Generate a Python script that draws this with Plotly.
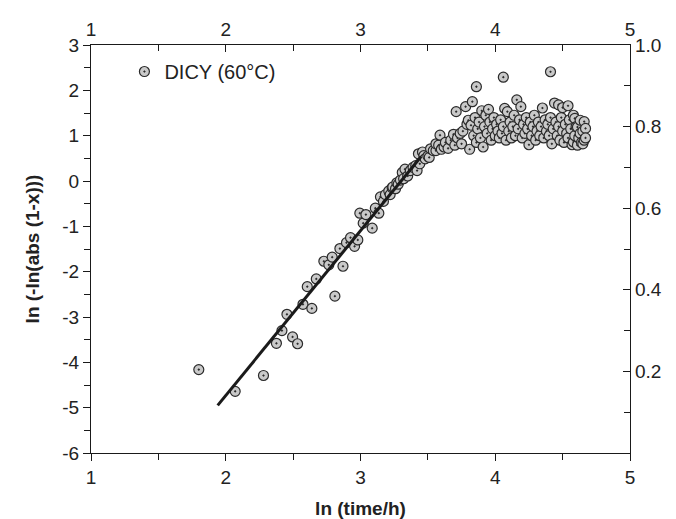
import plotly.graph_objects as go

# ln(time/h) and ln(-ln(abs(1-x)))
ln_t = [1.80, 2.07, 2.28, 2.376, 2.417, 2.454, 2.496, 2.533, 2.573, 2.605, 2.639, 2.672,
        2.728, 2.765, 2.79, 2.81, 2.847, 2.87, 2.896, 2.926, 2.956, 2.98, 2.995, 3.02,
        3.04, 3.087, 3.11, 3.136, 3.148, 3.17, 3.185, 3.21, 3.22, 3.235, 3.24, 3.26,
        3.27, 3.28, 3.296, 3.31, 3.32, 3.33, 3.35, 3.37, 3.39, 3.41, 3.42, 3.43, 3.44,
        3.46, 3.47, 3.48, 3.50, 3.51, 3.52, 3.54, 3.56, 3.56, 3.58, 3.59, 3.60, 3.62,
        3.63, 3.65, 3.67, 3.69, 3.70, 3.71, 3.72, 3.74, 3.75, 3.76, 3.78, 3.79, 3.80,
        3.81, 3.82, 3.83, 3.84, 3.85, 3.86, 3.86, 3.87, 3.88, 3.89, 3.90, 3.91, 3.92,
        3.93, 3.94, 3.95, 3.96, 3.97, 3.98, 3.99, 4.00, 4.01, 4.02, 4.03, 4.04, 4.05,
        4.06, 4.06, 4.07, 4.08, 4.09, 4.10, 4.11, 4.12, 4.13, 4.14, 4.15, 4.16, 4.17,
        4.18, 4.19, 4.20, 4.21, 4.22, 4.23, 4.24, 4.25, 4.26, 4.27, 4.28, 4.29, 4.30,
        4.31, 4.32, 4.33, 4.34, 4.35, 4.36, 4.37, 4.38, 4.39, 4.40, 4.41, 4.41, 4.42,
        4.43, 4.44, 4.45, 4.46, 4.47, 4.47, 4.48, 4.49, 4.50, 4.50, 4.51, 4.52, 4.53,
        4.54, 4.54, 4.55, 4.56, 4.57, 4.58, 4.58, 4.59, 4.59, 4.60, 4.61, 4.61, 4.62,
        4.63, 4.63, 4.64, 4.65, 4.65, 4.66, 4.66, 4.67, 4.67]
ln_k = [-4.16, -4.64, -4.29, -3.58, -3.30, -2.94, -3.44, -3.59, -2.72, -2.33, -2.81, -2.16,
        -1.77, -1.85, -1.68, -2.54, -1.49, -1.88, -1.36, -1.25, -1.44, -1.30, -0.71, -0.93,
        -0.74, -1.04, -0.60, -0.71, -0.35, -0.45, -0.30, -0.22, -0.30, -0.15, -0.13, -0.17,
        -0.04, -0.07, 0.02, 0.19, 0.05, 0.26, 0.11, 0.23, 0.30, 0.34, 0.23, 0.60, 0.38,
        0.64, 0.56, 0.49, 0.55, 0.52, 0.71, 0.67, 0.67, 0.82, 0.79, 1.01, 0.70, 0.75,
        0.85, 0.72, 0.90, 1.03, 0.79, 1.53, 0.95, 1.05, 0.82, 1.10, 1.64, 1.25, 1.34,
        0.70, 1.23, 1.75, 1.00, 1.40, 2.08, 0.85, 1.15, 1.30, 0.95, 1.55, 0.75, 1.20,
        1.45, 1.05, 1.58, 1.30, 0.90, 1.15, 1.40, 1.00, 1.25, 1.10, 0.95, 1.35, 1.05,
        2.29, 1.20, 1.60, 0.90, 1.53, 1.10, 1.30, 0.95, 1.20, 1.45, 1.00, 1.79, 1.15,
        1.35, 1.64, 0.95, 1.25, 1.05, 1.40, 1.15, 0.80, 1.30, 1.00, 1.20, 1.45, 0.90,
        1.10, 1.30, 1.00, 1.20, 1.61, 0.95, 1.35, 1.10, 1.25, 1.00, 2.41, 1.40, 0.82,
        1.15, 1.72, 1.30, 1.00, 1.68, 1.20, 0.90, 1.40, 1.62, 1.10, 0.85, 1.25, 1.05,
        1.66, 0.95, 1.35, 1.15, 0.80, 1.45, 0.86, 1.38, 1.00, 1.20, 0.79, 1.19, 0.95,
        1.34, 1.05, 0.85, 0.82, 1.10, 1.31, 0.90, 1.16, 0.95]

# linear fit line endpoints
fit_x = [1.94, 3.45]
fit_y = [-4.95, 0.54]

x_ticks = [1, 2, 3, 4, 5]
y_ticks = [-6, -5, -4, -3, -2, -1, 0, 1, 2, 3]
y_tick_text = ["-6", "-5", "-4", "-3", "-2", "-1", "0", "1", "2", "3"]
y2_ticks = [0.2, 0.4, 0.6, 0.8, 1.0]
y2_tick_text = ["0.2", "0.4", "0.6", "0.8", "1.0"]

FONT = "Liberation Sans, Arial, sans-serif"

fig = go.Figure()
fig.add_trace(go.Scatter(
    x=ln_t, y=ln_k, mode="markers", name="DICY (60°C)",
    marker=dict(symbol="circle-dot", size=10, color="#c9c9c9",
                line=dict(color="#2a2a2a", width=1.2)),
))
fig.add_trace(go.Scatter(
    x=fit_x, y=fit_y, mode="lines", showlegend=False,
    line=dict(color="#1a1a1a", width=3),
))
# invisible trace to activate secondary axes
fig.add_trace(go.Scatter(x=[None], y=[None], xaxis="x2", yaxis="y2",
                         showlegend=False, hoverinfo="skip"))

axis_common = dict(showline=True, linecolor="#1a1a1a", linewidth=1.3,
                   showgrid=False, zeroline=False, ticklen=7, tickwidth=1.2,
                   tickcolor="#1a1a1a", tickfont=dict(family=FONT, size=19, color="#222"))

fig.update_layout(
    width=676, height=519,
    margin=dict(l=83, r=54, t=37, b=74),
    paper_bgcolor="white", plot_bgcolor="white",
    font=dict(family=FONT, color="#222"),
    showlegend=True,
    legend=dict(x=0.062, y=0.935, xanchor="left", yanchor="middle",
                bgcolor="rgba(0,0,0,0)", font=dict(family=FONT, size=20, color="#222"),
                itemwidth=30),
    xaxis=dict(range=[1, 5], tickvals=x_ticks, ticks="outside",
               minor=dict(dtick=0.5, ticks="outside", ticklen=6, tickcolor="#1a1a1a"),
               title=dict(text="<b>ln (time/h)</b>", font=dict(family=FONT, size=19), standoff=14),
               **axis_common),
    yaxis=dict(range=[-6, 3], tickvals=y_ticks, ticktext=y_tick_text, ticks="outside",
               minor=dict(dtick=0.5, ticks="outside", ticklen=6, tickcolor="#1a1a1a"),
               title=dict(text="<b>ln (-ln(abs (1-x)))</b>", font=dict(family=FONT, size=19), standoff=17),
               **axis_common),
    xaxis2=dict(range=[1, 5], tickvals=x_ticks, ticks="inside", overlaying="x", side="top",
                minor=dict(dtick=0.5, ticks="inside", ticklen=6, tickcolor="#1a1a1a"),
                anchor="y", **axis_common),
    yaxis2=dict(range=[0, 1], tickvals=y2_ticks, ticktext=y2_tick_text, ticks="inside",
                overlaying="y", side="right", anchor="x",
                minor=dict(dtick=0.1, ticks="inside", ticklen=6, tickcolor="#1a1a1a"),
                **axis_common),
)

fig.write_html("out.html")
